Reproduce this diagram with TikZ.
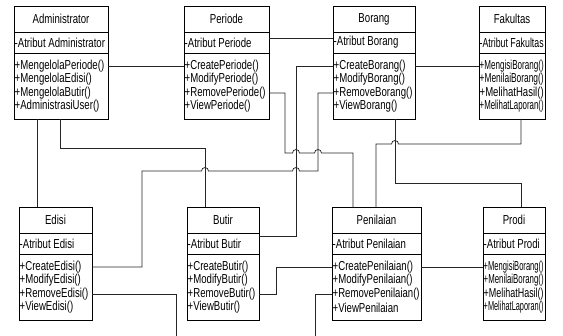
\documentclass[tikz,border=0pt]{standalone}
\usepackage{fontspec}
\usetikzlibrary{positioning}
\newfontfamily\umlfont{Liberation Sans}[FakeStretch=0.74]

% squeeze a text sideways when it is wider than the box
\newsavebox\fitbox
\newcommand{\fitw}[2]{\sbox\fitbox{#2}%
  \ifdim\wd\fitbox>#1%
    \pgfmathsetmacro\fitratio{\the\dimexpr#1\relax/\the\wd\fitbox}%
    \scalebox{\fitratio}[1]{\usebox\fitbox}%
  \else\usebox\fitbox\fi}

% one class box: name, top-left, width, title, attribute, four operations
\newcommand{\umlclass}[9]{%
  \node[classbox, minimum width=#3, minimum height=25.5pt, anchor=north west] (#1) at (#2) {#4};
  \node[classbox, minimum width=#3, minimum height=21pt, below=0pt of #1] (#1-a) {};
  \node[classbox, minimum width=#3, minimum height=66pt, below=0pt of #1-a] (#1-o) {};
  \node[member] (#1-at) at (#1-a.west) {\fitw{\dimexpr#3-2pt\relax}{#5}};
  \node[member] (#1-1) at ([yshift=-13pt]#1-o.north west) {\fitw{\dimexpr#3-2pt\relax}{#6}};
  \node[member] (#1-2) at ([yshift=-26.5pt]#1-o.north west) {\fitw{\dimexpr#3-2pt\relax}{#7}};
  \node[member] (#1-3) at ([yshift=-40pt]#1-o.north west) {\fitw{\dimexpr#3-2pt\relax}{#8}};
  \node[member] (#1-4) at ([yshift=-53.5pt]#1-o.north west) {\fitw{\dimexpr#3-2pt\relax}{#9}};
}

\begin{document}
\begin{tikzpicture}[x=1pt, y=-1pt,
  classbox/.style={draw, line width=0.75pt, inner sep=0pt, outer sep=0pt,
    font=\umlfont\fontsize{13}{15}\selectfont},
  member/.style={anchor=west, inner xsep=0.5pt, inner ysep=0pt,
    font=\umlfont\fontsize{13}{15}\selectfont},
  link/.style={line width=0.75pt, black!85}
]
\useasboundingbox (0,0) rectangle (563,336);

\umlclass{admin}{14,6.5}{94pt}{Administrator}{-Atribut Administrator}
  {+MengelolaPeriode()}{+MengelolaEdisi()}{+MengelolaButir()}{+AdministrasiUser()}
\umlclass{periode}{184,6.5}{85pt}{Periode}{-Atribut Periode}
  {+CreatePeriode()}{+ModifyPeriode()}{+RemovePeriode()}{+ViewPeriode()}
\umlclass{borang}{333,6.5}{82pt}{Borang}{-Atribut Borang}
  {+CreateBorang()}{+ModifyBorang()}{+RemoveBorang()}{+ViewBorang()}
\umlclass{fakultas}{479,6.5}{66pt}{Fakultas}{-Atribut Fakultas}
  {+MengisiBorang()}{+MenilaiBorang()}{+MelihatHasil()}{+MelihatLaporan()}

\umlclass{edisi}{19,207.5}{73pt}{Edisi}{-Atribut Edisi}
  {+CreateEdisi()}{+ModifyEdisi()}{+RemoveEdisi()}{+ViewEdisi()}
\umlclass{butir}{187,207.5}{72pt}{Butir}{-Atribut Butir}
  {+CreateButir()}{+ModifyButir()}{+RemoveButir()}{+ViewButir()}
\umlclass{penilaian}{332,207.5}{89pt}{Penilaian}{-Atribut Penilaian}
  {+CreatePenilaian()}{+ModifyPenilaian()}{+RemovePenilaian()}{+ViewPenilaian}
\umlclass{prodi}{483,207.5}{62pt}{Prodi}{-Atribut Prodi}
  {+MengisiBorang()}{+MenilaiBorang()}{+MelihatHasil()}{+MelihatLaporan()}

\coordinate (edisi-end) at (176,336);
\coordinate (penilaian-end) at (315,336);

% straight links
\draw[link] (admin-1 -| admin.east) -- (admin-1 -| periode.west);
\draw[link] ([yshift=4.5pt]periode-a.east) -- ([yshift=4.5pt]periode-a.east -| borang.west);
\draw[link] (borang-1 -| borang.east) -- (borang-1 -| fakultas.west);
\draw[link] (penilaian-1 -| penilaian.east) -- (penilaian-1 -| prodi.west);
\draw[link] ([xshift=23pt]admin-o.south west) -- ([xshift=18pt]edisi.north west);

% routed links, with hops where they cross
\draw[link] ([xshift=46pt]admin-o.south west) |- (205,148) -- ([xshift=18pt]butir.north west);
\draw[link] (borang-3 -| borang.west) -| (318,171) -- (299.5,171)
  arc[start angle=0, end angle=180, radius=3.5pt] -- (208.5,171)
  arc[start angle=0, end angle=180, radius=3.5pt] -- (142,171) |- (edisi-1 -| edisi.east);
\draw[link] (periode-3 -| periode.east) -| (285,153) -- (292.5,153)
  arc[start angle=180, end angle=0, radius=3.5pt] -- (314.5,153)
  arc[start angle=180, end angle=0, radius=3.5pt] -- (353,153) -- ([xshift=21pt]penilaian.north west);
\draw[link] (borang-1 -| borang.west) -| ([xshift=37pt, yshift=7.5pt]butir-a.east) -- ([yshift=7.5pt]butir-a.east);
\draw[link] ([xshift=62pt]borang-o.south west) |- (521,183) -- ([xshift=38pt]prodi.north west);
\draw[link] ([xshift=42pt]fakultas-o.south west) -- (521,144) -- (398.5,144)
  arc[start angle=0, end angle=180, radius=3.5pt] -- (376,144) -- ([xshift=44pt]penilaian.north west);
\draw[link] (butir-3 -| butir.east) -- ++(17,0) |- (penilaian-1 -| penilaian.west);
\draw[link] (edisi-3 -| edisi.east) -| (edisi-end);
\draw[link] (penilaian-3 -| penilaian.west) -| (penilaian-end);
\end{tikzpicture}
\end{document}
